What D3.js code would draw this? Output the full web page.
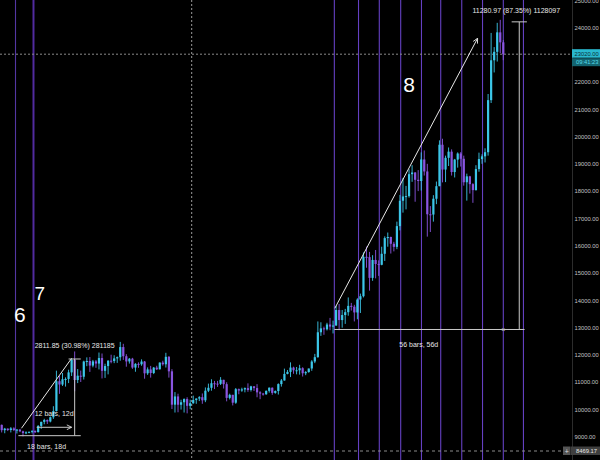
<!DOCTYPE html>
<html><head><meta charset="utf-8">
<script src="https://cdn.jsdelivr.net/npm/d3@7"></script>
<style>html,body{margin:0;padding:0;background:#000;}svg{display:block;}</style>
</head><body>
<svg id="c" width="600" height="460"></svg>
<script>
// ---- data (BTC daily candles) ----
const startDay = "2020-07-07";
const firstOpen = 9344;
const closes = [
 9253,9428,9233,9289,9239,9299,9240,9253,9191,9131,9153,9171,9209,9161,9390,9537,9608,9551,9707,9934,11029,10907,11100,11111,11352,
 11810,11072,11230,11193,11750,11770,11602,11755,11676,11878,11410,11585,11780,11768,11865,11910,12281,11945,11754,11854,11529,11664,11649,11750,11318,11461,11330,11527,11465,11711,11650,
 11923,11391,10168,10470,10166,10257,10373,10126,10221,10339,10393,10443,10328,10680,10787,10954,10940,10933,11080,10920,10417,10529,10241,10736,10687,10728,10775,10708,10840,10777,
 10620,10575,10550,10675,10790,10600,10669,10923,11055,11296,11370,11529,11430,11430,11505,11320,11364,11495,11751,11910,12823,12966,12931,13108,13031,13071,13639,13271,13455,13560,13791,
 13761,13550,14023,14145,15590,15579,14818,15475,15328,15297,15701,16276,16317,16068,15955,16716,17645,17804,17817,18621,18681,18414,18370,19160,18720,17150,17140,17720,18180,19700,
 18790,19220,19446,18699,19155,19379,19185,18324,18541,18255,18036,18808,19175,19274,19426,21335,22797,23107,23821,23455,23020
];
const highs = [
 9375,9470,9440,9317,9300,9345,9340,9275,9275,9214,9190,9185,9225,9218,9420,9545,9650,9625,9735,10111,11415,11220,11330,11170,11450,
 11862,12120,11475,11418,11780,11902,11915,11810,11808,12080,12045,11670,11800,12000,11980,11935,12470,12400,12020,11880,11885,11690,11720,11830,11770,11535,11590,11550,11595,11720,11780,
 12070,11950,11470,10630,10570,10350,10400,10440,10350,10500,10400,10480,10580,10800,10940,11100,11040,11040,11180,11080,10990,10570,10530,10780,10760,10790,10800,10950,10860,10850,
 10920,10660,10600,10690,10800,10800,10690,10950,11110,11490,11440,11720,11560,11550,11630,11540,11400,11490,11800,12030,13220,13190,13030,13170,13350,13250,13790,13860,13640,13680,14100,
 13900,13830,14070,14240,15750,15965,15770,15650,15840,15460,15960,16340,16480,16330,16140,16880,17860,18480,18190,18800,18950,18700,18770,19420,19490,19000,17450,17850,18350,19860,
 19920,19300,19600,19530,19180,19420,19430,19300,18640,18560,18290,18950,19410,19350,19570,21560,23800,23280,24170,24280,23540
];
const lows = [
 9200,9230,9150,9120,9200,9150,9200,9110,9160,9005,9089,9120,9115,9130,9150,9280,9450,9460,9520,9646,9920,10565,10855,10830,10960,
 11220,10660,10960,11000,11090,11580,11370,11538,11520,11460,11130,11150,11280,11685,11690,11700,11780,11810,11560,11675,11482,11375,11520,11595,11120,11260,11160,11290,11440,11460,11600,
 11530,11160,10010,9880,9890,9990,9880,9850,10000,10200,10200,10300,10200,10260,10630,10680,10740,10820,10890,10760,10290,10360,10140,10200,10550,10640,10620,10640,10650,10670,
 10440,10370,10500,10530,10610,10530,10570,10540,10830,11050,11280,11180,11300,11280,11270,11200,11250,11340,11410,11690,11890,12690,12730,12890,12900,12780,13060,12900,12990,13130,13430,
 13620,13220,13300,13530,14100,15190,14350,14710,14800,14890,15280,15440,15960,15710,15790,15870,16560,17210,17330,17760,18340,17610,18000,18020,18570,16330,16500,16880,17520,18180,
 18320,18330,18920,18570,18500,18860,18900,18200,17650,17910,17570,18020,18710,19000,19050,19300,21230,22350,22750,23060,22800
];
const priceTicks = [9000,10000,11000,12000,13000,14000,15000,16000,17000,18000,19000,20000,21000,22000,23000,24000,25000];
const markerTimes = ["2020-07-13T13:00","2020-07-19T11:00","2020-10-26T10:00","2020-11-03T09:00","2020-11-10T05:00","2020-11-17T06:00","2020-11-24T02:00","2020-11-30T10:00","2020-12-07T08:00","2020-12-14T04:00","2020-12-21T00:00","2020-12-27T15:00"];
const waveLabels = [
  {text:"6", t:"2020-07-15T00:00", p:13200},
  {text:"7", t:"2020-07-21T12:00", p:14000},
  {text:"8", t:"2020-11-20T00:00", p:21630}
];
const trendLines = [
  {t1:"2020-07-15T12:00", p1:9302, t2:"2020-08-01T00:00", p2:11869},
  {t1:"2020-10-26T14:00", p1:13703, t2:"2020-12-12T13:00", p2:23604}
];
const rangeA = {tStart:"2020-07-14T12:00", tEnd:"2020-08-04T00:00", tV:"2020-08-02T00:00", pLow:9031, pHigh:11843,
  label:"2811.85 (30.98%) 281185", bars:"18 bars, 18d",
  arrowT1:"2020-07-20T12:00", arrowT2:"2020-08-01T00:00", arrowP:9339, arrowLabel:"12 bars, 12d"};
const rangeB = {tStart:"2020-10-26T10:00", tEnd:"2020-12-28T00:00", tEndMark:"2020-12-21T00:00", tV:"2020-12-26T06:00", pLow:12925, pHigh:24206,
  label:"11280.97 (87.35%) 1128097", bars:"56 bars, 56d"};
const lastPrice = 23020, lastTime = "09:41:23";
const crossTime = "2020-09-09T12:00", crossPrice = 8469.17;

// ---- scales ----
const W = 600, H = 460, axisX = 572;
const pxPerDay = 3.04, endX = 503.3;
const FONT = "Liberation Sans, Arial, sans-serif";
const x = d3.scaleUtc()
  .domain([new Date("2020-07-04T00:00Z"), new Date("2020-12-31T00:00Z")])
  .range([endX - 170 * pxPerDay, endX + 10 * pxPerDay]);
const y = d3.scaleLinear().domain([8000, 25000]).range([463.8, 0.2]);
const T = s => new Date(s + (s.length <= 10 ? "T00:00Z" : "Z"));

const days = d3.utcDay.range(T(startDay), d3.utcDay.offset(T(startDay), closes.length));
const candles = days.map((d, i) => ({
  d, o: i === 0 ? firstOpen : closes[i - 1], h: highs[i], l: lows[i], c: closes[i]
}));

const svg = d3.select("#c");
svg.append("rect").attr("width", W).attr("height", H).attr("fill", "#000");
const plot = svg.append("g");

// purple vertical markers
plot.selectAll("line.vm").data(markerTimes).join("line")
  .attr("class", "vm")
  .attr("x1", d => x(T(d))).attr("x2", d => x(T(d)))
  .attr("y1", 0).attr("y2", H)
  .attr("stroke", (d, i) => i === 1 ? "#5a30b0" : "#7048d8")
  .attr("stroke-width", (d, i) => i === 1 ? 2 : 1.1)
  .attr("opacity", (d, i) => i === 0 ? 0.75 : 0.9);

// crosshair + last price line
plot.append("line").attr("x1", x(T(crossTime))).attr("x2", x(T(crossTime)))
  .attr("y1", 0).attr("y2", H).attr("stroke", "#9a9a9a").attr("stroke-width", 1).attr("stroke-dasharray", "2,2");
plot.append("line").attr("x1", 0).attr("x2", axisX).attr("y1", y(lastPrice)).attr("y2", y(lastPrice))
  .attr("stroke", "#8a8a8a").attr("stroke-width", 1).attr("stroke-dasharray", "2,2");
plot.append("line").attr("x1", 0).attr("x2", 563).attr("y1", y(crossPrice)).attr("y2", y(crossPrice))
  .attr("stroke", "#8a8a8a").attr("stroke-width", 1).attr("stroke-dasharray", "3,3");

// candles
const UP = "#3cc6e8", DOWN = "#8a55e0";
const cg = plot.append("g");
cg.selectAll("line.wick").data(candles).join("line")
  .attr("class", "wick")
  .attr("x1", d => x(d.d)).attr("x2", d => x(d.d))
  .attr("y1", d => y(d.h)).attr("y2", d => y(d.l))
  .attr("stroke", d => d.c >= d.o ? UP : DOWN).attr("stroke-width", 0.9);
cg.selectAll("rect.body").data(candles).join("rect")
  .attr("class", "body")
  .attr("x", d => x(d.d) - 1.1).attr("width", 2.2)
  .attr("y", d => y(Math.max(d.o, d.c)))
  .attr("height", d => Math.max(1, Math.abs(y(d.o) - y(d.c))))
  .attr("fill", d => d.c >= d.o ? UP : DOWN);

// annotations
const ann = plot.append("g").attr("font-family", FONT);
const defs = svg.append("defs");
defs.append("marker").attr("id", "arr").attr("viewBox", "0 0 10 10").attr("refX", 9).attr("refY", 5)
  .attr("markerWidth", 6).attr("markerHeight", 6).attr("orient", "auto")
  .append("path").attr("d", "M1,1 L9,5 L1,9").attr("fill", "none").attr("stroke", "#e8e8e8").attr("stroke-width", 1.4);

ann.selectAll("line.tl").data(trendLines).join("line")
  .attr("class", "tl")
  .attr("x1", d => x(T(d.t1))).attr("y1", d => y(d.p1))
  .attr("x2", d => x(T(d.t2))).attr("y2", d => y(d.p2))
  .attr("stroke", "#e8e8e8").attr("stroke-width", 1)
  .attr("marker-end", (d, i) => i === 1 ? "url(#arr)" : null);

const mcol = "#c9c9c9";
function hline(t1, t2, p, marker) {
  ann.append("line").attr("x1", x(T(t1))).attr("x2", x(T(t2))).attr("y1", y(p)).attr("y2", y(p))
    .attr("stroke", mcol).attr("stroke-width", 1).attr("marker-end", marker ? "url(#arr)" : null);
}
function vline(t, p1, p2) {
  ann.append("line").attr("x1", x(T(t))).attr("x2", x(T(t))).attr("y1", y(p1)).attr("y2", y(p2))
    .attr("stroke", mcol).attr("stroke-width", 1);
}
function label(txt, px, py, size) {
  ann.append("text").attr("x", px).attr("y", py).attr("text-anchor", "middle")
    .attr("font-size", size || 7).attr("fill", "#e6e6e6").text(txt);
}
// range A
hline(rangeA.tStart, rangeA.tEnd, rangeA.pLow, false);
vline(rangeA.tV, rangeA.pLow, rangeA.pHigh);
hline("2020-07-31T00:00", rangeA.tEnd, rangeA.pHigh, false);
hline(rangeA.arrowT1, rangeA.arrowT2, rangeA.arrowP, true);
label(rangeA.label, x(T(rangeA.tV)), y(rangeA.pHigh) - 11);
label(rangeA.arrowLabel, (x(T(rangeA.arrowT1)) + x(T(rangeA.arrowT2))) / 2, y(rangeA.arrowP) - 11);
label(rangeA.bars, (x(T(rangeA.tStart)) + x(T(rangeA.tEnd))) / 2 - 3, y(rangeA.pLow) + 13);
// range B
hline(rangeB.tStart, rangeB.tEnd, rangeB.pLow, false);
vline(rangeB.tV, rangeB.pLow, rangeB.pHigh);
hline("2020-12-23T18:00", "2020-12-28T18:00", rangeB.pHigh, false);
ann.append("text").attr("x", x(T(rangeB.tEndMark))).attr("y", y(rangeB.pLow) + 2.5).attr("text-anchor", "middle")
  .attr("font-size", 7).attr("fill", "#bbb").text("×");
label(rangeB.label, x(T(rangeB.tV)) - 3, y(rangeB.pHigh) - 9);
label(rangeB.bars, (x(T(rangeB.tStart)) + x(T(rangeB.tEndMark))) / 2, y(rangeB.pLow) + 18);

// wave counts
ann.selectAll("text.wave").data(waveLabels).join("text")
  .attr("class", "wave")
  .attr("x", d => x(T(d.t))).attr("y", d => y(d.p))
  .attr("text-anchor", "middle").attr("font-size", (d, i) => i === 1 ? 19 : 21)
  .attr("fill", "#ffffff").text(d => d.text);

// ---- price axis ----
svg.append("rect").attr("x", axisX).attr("y", 0).attr("width", W - axisX).attr("height", H).attr("fill", "#000");
svg.append("line").attr("x1", axisX + 0.5).attr("x2", axisX + 0.5).attr("y1", 0).attr("y2", H)
  .attr("stroke", "#2c2c2c").attr("stroke-width", 1);
const axis = d3.axisRight(y).tickValues(priceTicks).tickFormat(d3.format(".2f")).tickSize(0).tickPadding(1.5);
const ag = svg.append("g").attr("transform", `translate(${axisX + 1},0)`).call(axis);
ag.select(".domain").remove();
ag.selectAll("text").attr("font-family", FONT).attr("font-size", 5.8).attr("fill", "#c4c4c4");

// last price tag
const ly = y(lastPrice);
svg.append("rect").attr("x", axisX).attr("y", ly - 5).attr("width", W - axisX).attr("height", 8.5).attr("fill", "#29b9cf");
svg.append("text").attr("x", axisX + 2.5).attr("y", ly + 1.5).attr("font-family", FONT)
  .attr("font-size", 5.8).attr("fill", "#0c2f36").text(d3.format(".2f")(lastPrice));
svg.append("rect").attr("x", axisX).attr("y", ly + 4).attr("width", W - axisX).attr("height", 8).attr("fill", "#136470");
svg.append("text").attr("x", axisX + 4).attr("y", ly + 10.2).attr("font-family", FONT)
  .attr("font-size", 5.8).attr("fill", "#55dbe9").text(lastTime);

// crosshair price tag
const cy = y(crossPrice);
svg.append("rect").attr("x", 563).attr("y", cy - 4.5).attr("width", 7.5).attr("height", 8.5).attr("fill", "#555");
svg.append("text").attr("x", 566.7).attr("y", cy + 2.5).attr("text-anchor", "middle").attr("font-size", 7)
  .attr("fill", "#ddd").attr("font-family", FONT).text("+");
svg.append("rect").attr("x", 571).attr("y", cy - 4.5).attr("width", W - 571).attr("height", 8.5).attr("fill", "#3f3f3f");
svg.append("text").attr("x", 576).attr("y", cy + 2).attr("font-family", FONT)
  .attr("font-size", 5.8).attr("fill", "#e8e8e8").text(d3.format(".2f")(crossPrice));
</script>
</body></html>
